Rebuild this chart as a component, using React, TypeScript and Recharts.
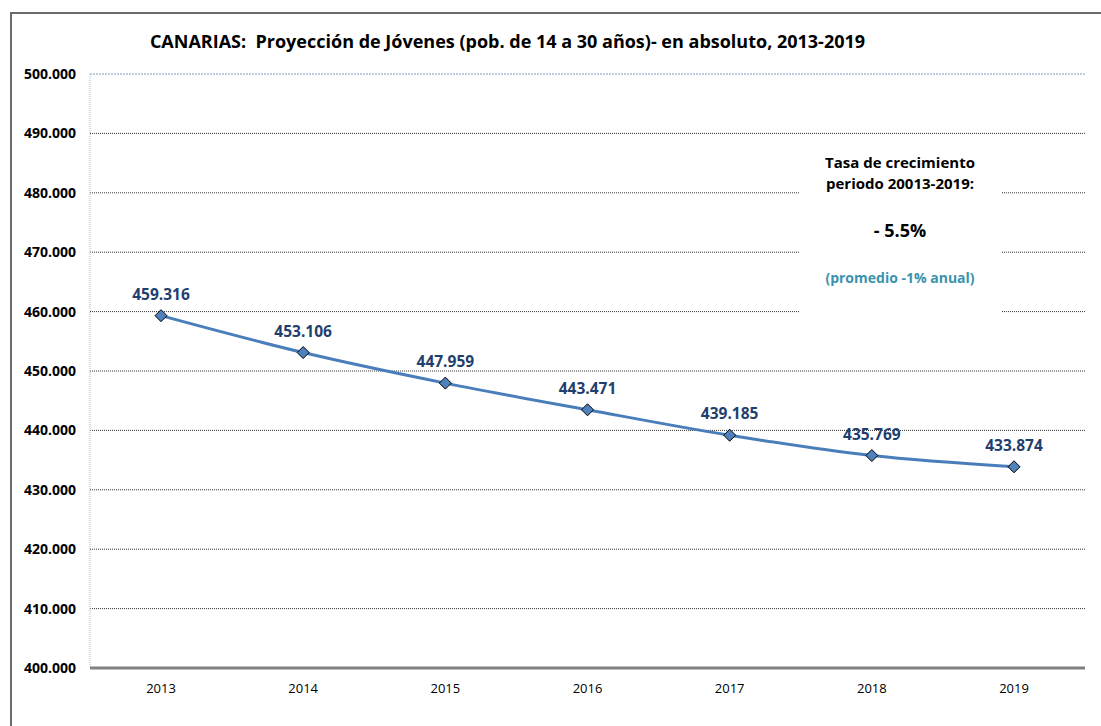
import { LineChart, Line, XAxis, YAxis, ReferenceLine, LabelList } from "recharts"

const years = ["2013", "2014", "2015", "2016", "2017", "2018", "2019"]
const jovenes = [459316, 453106, 447959, 443471, 439185, 435769, 433874]
const yTicks = [400000, 410000, 420000, 430000, 440000, 450000, 460000, 470000, 480000, 490000, 500000]

const data = years.map((year, i) => ({ year, value: jovenes[i] }))

const FONT = "'Open Sans', 'Noto Sans', sans-serif"

const fmt = (v: number) => {
  const s = Math.round(v).toString()
  return s.replace(/\B(?=(\d{3})+(?!\d))/g, ".")
}

const Diamond = (props: any) => {
  const { cx, cy } = props
  if (cx == null || cy == null) return null
  const r = 6
  return (
    <path
      d={`M${cx},${cy - r} L${cx + r},${cy} L${cx},${cy + r} L${cx - r},${cy} Z`}
      fill="#4F81BD"
      stroke="#000"
      strokeWidth={1}
    />
  )
}

const ValueLabel = (props: any) => {
  const { x, y, value } = props
  return (
    <text x={x} y={y - 16} textAnchor="middle" fontFamily={FONT} fontWeight={700} fontSize={15.5} fill="#1F3F6E">
      {fmt(value)}
    </text>
  )
}

export default function App() {
  return (
    <div
      style={{
        position: "fixed",
        left: 8,
        top: 8,
        width: 1093,
        height: 718,
        overflow: "hidden",
        fontFamily: FONT,
        background: "#fff",
      }}
    >
      <div
        style={{
          position: "absolute",
          left: 2,
          top: 4,
          width: 1200,
          height: 800,
          borderLeft: "2px solid #6b6b6b",
          borderTop: "2px solid #6b6b6b",
        }}
      />
      <div
        style={{
          position: "absolute",
          top: 21,
          left: 0,
          width: 999,
          textAlign: "center",
          fontWeight: 700,
          fontSize: 18,
          color: "#000",
          whiteSpace: "nowrap",
        }}
      >
        CANARIAS:&nbsp; Proyección de Jóvenes (pob. de 14 a 30 años)- en absoluto, 2013-2019
      </div>
      <div style={{ position: "absolute", left: 0, top: 0 }}>
        <LineChart width={1093} height={718} data={data} margin={{ top: 66, right: 16, bottom: 28, left: 0 }}>
          <XAxis
            dataKey="year"
            height={30}
            padding={{ left: 71, right: 71 }}
            tickLine={false}
            tickSize={6}
            tickMargin={10}
            axisLine={{ stroke: "#808080", strokeWidth: 3 }}
            tick={{ fill: "#000", fontSize: 13, fontFamily: FONT }}
          />
          <YAxis
            yAxisId="left"
            width={82}
            domain={[400000, 500000]}
            ticks={yTicks}
            tickFormatter={fmt}
            tickLine={false}
            tickSize={6}
            tickMargin={8}
            axisLine={{ stroke: "#9DB5D6", strokeDasharray: "1 1" }}
            tick={{ fill: "#000", fontSize: 14, fontWeight: 700, fontFamily: FONT }}
          />
          <YAxis
            yAxisId="right"
            orientation="right"
            width={0}
            domain={[400000, 500000]}
            tick={false}
            tickLine={false}
            axisLine={{ stroke: "#808080", strokeWidth: 2 }}
          />
          {yTicks
            .filter((v) => v > 400000 && v < 500000)
            .map((v) => (
              <ReferenceLine key={v} yAxisId="left" y={v} stroke="#333" strokeDasharray="1 1" />
            ))}
          <ReferenceLine yAxisId="left" y={500000} stroke="#7F9DC4" strokeDasharray="2 1" />
          <Line
            yAxisId="left"
            type="monotone"
            dataKey="value"
            stroke="#4A7EBB"
            strokeWidth={3}
            dot={<Diamond />}
            activeDot={false}
            isAnimationActive={false}
          >
            <LabelList dataKey="value" content={<ValueLabel />} />
          </Line>
        </LineChart>
      </div>
      <div
        style={{
          position: "absolute",
          left: 791,
          top: 132,
          width: 202,
          height: 180,
          background: "#fff",
          textAlign: "center",
          fontWeight: 700,
        }}
      >
        <div style={{ position: "absolute", top: 12, width: "100%", fontSize: 15, lineHeight: "20px", color: "#000" }}>
          Tasa de crecimiento
        </div>
        <div style={{ position: "absolute", top: 33, width: "100%", fontSize: 15, lineHeight: "20px", color: "#000" }}>
          periodo 20013-2019:
        </div>
        <div style={{ position: "absolute", top: 78, width: "100%", fontSize: 18, lineHeight: "24px", color: "#000" }}>
          - 5.5%
        </div>
        <div style={{ position: "absolute", top: 128, width: "100%", fontSize: 14, lineHeight: "20px", color: "#3A93AE" }}>
          (promedio -1% anual)
        </div>
      </div>
    </div>
  )
}
